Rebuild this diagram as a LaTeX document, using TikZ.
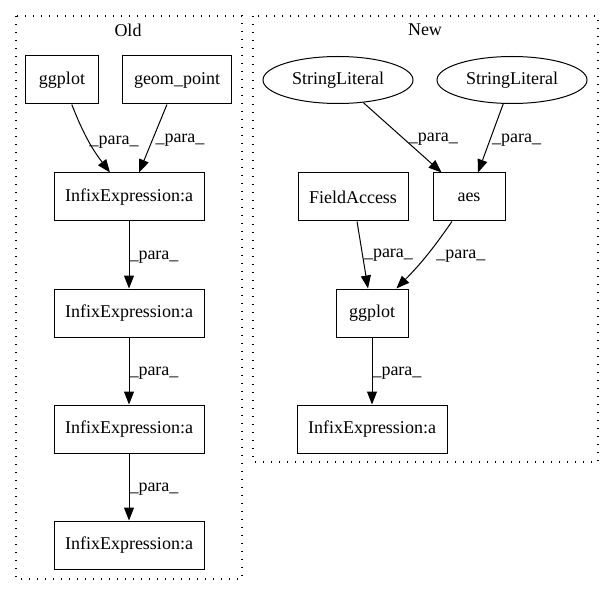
\documentclass[tikz,border=0pt]{standalone}
\usepackage{fontspec}
\setmainfont{Liberation Serif}
\usetikzlibrary{arrows.meta,shapes.geometric}
\begin{document}
\begin{tikzpicture}[x=1pt,y=-1pt,
  font=\fontsize{18}{21}\selectfont,
  box/.style={draw, line width=1pt, rectangle, minimum height=48pt, inner sep=0pt},
  oval/.style={draw, line width=1pt, ellipse, minimum width=150pt, minimum height=47pt, inner sep=0pt},
  cluster/.style={draw, line width=1.1pt, dash pattern=on 1.4pt off 6.6pt},
  conn/.style={line width=1pt, -{Triangle[length=13pt,width=10pt]}},
  lab/.style={anchor=west, inner sep=0pt, font=\fontsize{18}{21}\selectfont}
]
\useasboundingbox (0,0) rectangle (613,596);
% clusters
\draw[cluster] (16,16) rectangle (242,579);
\node (oldlab) at (128,30) {Old};
\draw[cluster] (253,16) rectangle (598,462);
\node (newlab) at (425,30) {New};
% Old nodes
\node[box, minimum width=73pt] (og) at (62,80) {ggplot};
\node[box, minimum width=109pt] (ogp) at (177,80) {geom\_point};
\node[box, minimum width=150pt] (oi1) at (129,197) {InfixExpression:a};
\node[box, minimum width=150pt] (oi2) at (129,313) {InfixExpression:a};
\node[box, minimum width=150pt] (oi3) at (129,429) {InfixExpression:a};
\node[box, minimum width=150pt] (oi4) at (129,545) {InfixExpression:a};
% New nodes
\node[oval] (s1) at (338,80) {StringLiteral};
\node[oval] (s2) at (512,80) {StringLiteral};
\node[box, minimum width=110pt] (fa) at (353,197) {FieldAccess};
\node[box, minimum width=72pt] (aes) at (469,197) {aes};
\node[box, minimum width=72pt] (ng) at (372,313) {ggplot};
\node[box, minimum width=150pt] (ni) at (372,429) {InfixExpression:a};
% Old edges
\draw[conn] (og) to[bend right=8] node[lab, pos=0.5, xshift=1pt, yshift=-2pt] {\_para\_} (oi1);
\draw[conn] (ogp) -- node[lab, pos=0.5, xshift=2pt, yshift=-2pt] {\_para\_} (oi1);
\draw[conn] (oi1) -- node[lab, pos=0.5, yshift=-2pt] {\_para\_} (oi2);
\draw[conn] (oi2) -- node[lab, pos=0.5, yshift=-2pt] {\_para\_} (oi3);
\draw[conn] (oi3) -- node[lab, pos=0.5, yshift=-2pt] {\_para\_} (oi4);
% New edges
\draw[conn] (s1) -- node[lab, pos=0.5, xshift=6pt, yshift=-2pt] {\_para\_} (aes);
\draw[conn] (s2) -- node[lab, pos=0.5, xshift=1pt, yshift=-2pt] {\_para\_} (aes);
\draw[conn] (fa) -- node[lab, pos=0.5, xshift=1pt] {\_para\_} (ng);
\draw[conn] (aes) to[bend left=5] node[lab, pos=0.5, xshift=10pt] {\_para\_} (ng);
\draw[conn] (ng) -- node[lab, pos=0.5, yshift=-2pt] {\_para\_} (ni);
\end{tikzpicture}
\end{document}
